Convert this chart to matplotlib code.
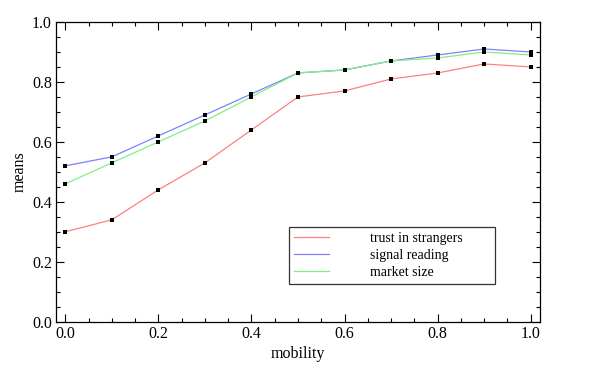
import matplotlib
matplotlib.use("Agg")
import matplotlib.pyplot as plt
from matplotlib.ticker import MultipleLocator, FormatStrFormatter

mobility = [0.0, 0.1, 0.2, 0.3, 0.4, 0.5, 0.6, 0.7, 0.8, 0.9, 1.0]
trust = [0.30, 0.34, 0.44, 0.53, 0.64, 0.75, 0.77, 0.81, 0.83, 0.86, 0.85]
signal = [0.52, 0.55, 0.62, 0.69, 0.76, 0.83, 0.84, 0.87, 0.89, 0.91, 0.90]
market = [0.46, 0.53, 0.60, 0.67, 0.75, 0.83, 0.84, 0.87, 0.88, 0.90, 0.89]

plt.rcParams['font.family'] = ['Liberation Serif', 'DejaVu Serif']

fig = plt.figure(figsize=(6, 3.75), dpi=100)
ax = fig.add_axes([56/600, 1-321.7/375, (540-56)/600, (321.7-22)/375])

ax.plot(mobility, trust, color='#ff8080', lw=0.9, label='trust in strangers')
ax.plot(mobility, signal, color='#8080ff', lw=0.9, label='signal reading')
ax.plot(mobility, market, color='#80f080', lw=0.9, label='market size')
for s in (trust, signal, market):
    ax.plot(mobility, s, linestyle='none', marker='s', ms=2.3, mew=0, color='black')

ax.set_xlim(-0.02, 1.02)
ax.set_ylim(0, 1.0)
ax.xaxis.set_major_locator(MultipleLocator(0.2))
ax.xaxis.set_minor_locator(MultipleLocator(0.05))
ax.yaxis.set_major_locator(MultipleLocator(0.2))
ax.yaxis.set_minor_locator(MultipleLocator(0.05))
ax.xaxis.set_major_formatter(FormatStrFormatter('%.1f'))
ax.yaxis.set_major_formatter(FormatStrFormatter('%.1f'))
ax.tick_params(which='both', direction='in', top=True, right=True, width=0.8)
ax.tick_params(which='major', length=6, labelsize=11.5, pad=3)
ax.tick_params(which='minor', length=3)
for sp in ax.spines.values():
    sp.set_linewidth(0.9)

ax.set_xlabel('mobility', fontsize=11.5, labelpad=3)
ax.set_ylabel('means', fontsize=11.5, labelpad=3)

leg = ax.legend(loc='lower left', bbox_to_anchor=(289/600, 1-284/375, (495-289)/600, (284-226)/375),
                bbox_transform=fig.transFigure, mode='expand', fancybox=False, fontsize=10,
                handlelength=2.5, handletextpad=3.0, labelspacing=0.3, borderpad=0.35,
                borderaxespad=0)
leg.get_frame().set_edgecolor('black')
leg.get_frame().set_linewidth(0.9)

fig.savefig('out.png', dpi=100)
